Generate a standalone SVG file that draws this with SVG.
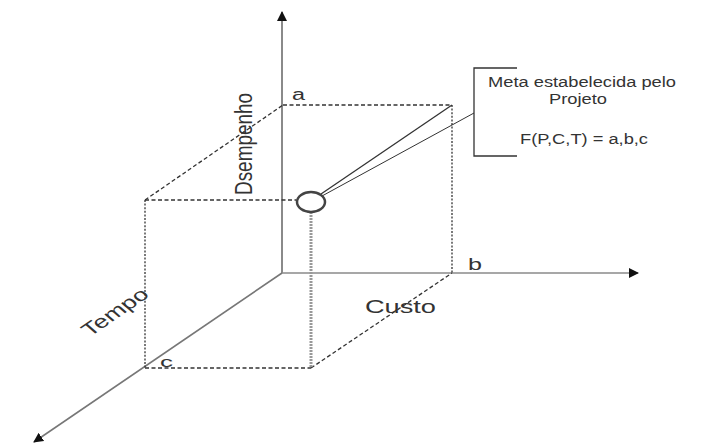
<svg xmlns="http://www.w3.org/2000/svg" width="728" height="446" viewBox="0 0 728 446">
<defs>
<style>
.axis{stroke:#8a8a8a;stroke-width:1.6;fill:none}
.dash{stroke:#333;stroke-width:1.3;stroke-dasharray:4 2.5;fill:none}
.dot{stroke:#333;stroke-width:1.3;stroke-dasharray:2 1.6;fill:none}
.solid{stroke:#333;stroke-width:1.3;fill:none}
text{font-family:"Liberation Sans",Arial,sans-serif;fill:#333}
</style>
<marker id="ah" viewBox="0 0 10 10" refX="9" refY="5" markerWidth="10" markerHeight="10" markerUnits="userSpaceOnUse" orient="auto">
<path d="M0,0 L10,5 L0,10 z" fill="#111"/>
</marker>
</defs>
<rect width="728" height="446" fill="#fff"/>
<g id="connectors">
<line class="axis" x1="282" y1="273" x2="282" y2="12" marker-end="url(#ah)" style="stroke-width:2"/>
<line class="axis" x1="282" y1="273" x2="638" y2="273" marker-end="url(#ah)"/>
<line class="axis" x1="282" y1="273" x2="34" y2="442" marker-end="url(#ah)" style="stroke:#777"/>
<line class="dash" x1="283" y1="105" x2="452" y2="105"/>
<line class="dot" x1="452" y1="105" x2="452" y2="273"/>
<line class="dash" x1="145" y1="200" x2="283" y2="105"/>
<line class="dash" x1="145" y1="200" x2="296" y2="200"/>
<line class="dot" x1="145" y1="200" x2="145" y2="368"/>
<line class="dash" x1="145" y1="368" x2="311" y2="368"/>
<line class="dash" x1="311" y1="368" x2="452" y2="273"/>
<line x1="311" y1="212" x2="311" y2="368" stroke="#999" stroke-width="3" stroke-dasharray="2 1"/>
<line class="solid" x1="321" y1="194" x2="452" y2="105"/>
<line class="solid" x1="322" y1="196" x2="474" y2="113" style="stroke-width:1"/>
<path class="solid" d="M517,68 H474 V156 H517"/>
</g>
<g id="goal">
<ellipse cx="311" cy="202" rx="14" ry="10" fill="#fff" stroke="#444" stroke-width="2.5"/>
</g>
<g id="label-meta">
<text x="488" y="87" font-size="14" textLength="188" lengthAdjust="spacingAndGlyphs">Meta estabelecida pelo</text>
<text x="549" y="104" font-size="14" textLength="58" lengthAdjust="spacingAndGlyphs">Projeto</text>
<text x="520" y="144" font-size="14" textLength="128" lengthAdjust="spacingAndGlyphs">F(P,C,T) = a,b,c</text>
</g>
<g id="label-a"><text x="292" y="100" font-size="16" textLength="13" lengthAdjust="spacingAndGlyphs">a</text></g>
<g id="label-b"><text x="468" y="270" font-size="16" textLength="14" lengthAdjust="spacingAndGlyphs">b</text></g>
<g id="label-c"><text x="160" y="367" font-size="14" textLength="13" lengthAdjust="spacingAndGlyphs">c</text></g>
<g id="label-custo"><text x="365" y="313" font-size="18" textLength="71" lengthAdjust="spacingAndGlyphs">Custo</text></g>
<g id="label-desempenho"><text transform="translate(252,195) scale(1.3,1) rotate(-90)" font-size="19" textLength="102" lengthAdjust="spacingAndGlyphs">Dsempenho</text></g>
<g id="label-tempo"><text transform="translate(90,337) scale(1.3,1) rotate(-41.5)" font-size="18" textLength="62" lengthAdjust="spacingAndGlyphs">Tempo</text></g>
</svg>
